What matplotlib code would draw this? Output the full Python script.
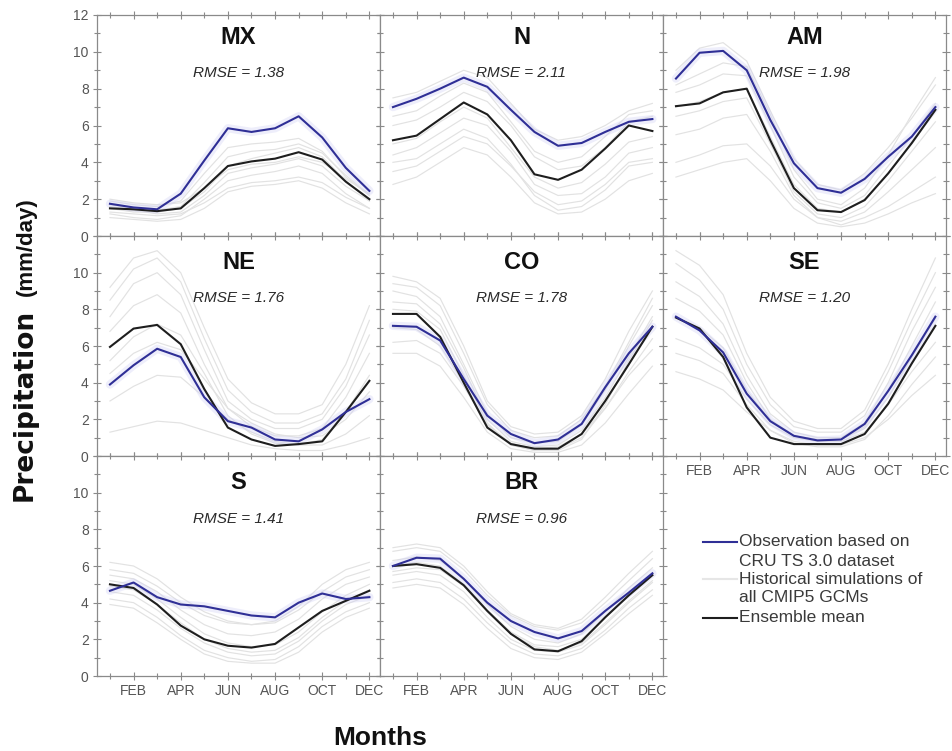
import matplotlib
matplotlib.use('Agg')
import matplotlib.pyplot as plt
from matplotlib.lines import Line2D
from matplotlib.ticker import FixedLocator, MultipleLocator
import numpy as np

plt.rcParams['font.family'] = ['Liberation Sans', 'DejaVu Sans']

# ---------------- data ----------------
months = list(range(1, 13))
tick_months = [2, 4, 6, 8, 10, 12]
month_labels = ['FEB', 'APR', 'JUN', 'AUG', 'OCT', 'DEC']
regions = ['MX', 'N', 'AM', 'NE', 'CO', 'SE', 'S', 'BR']
rmse = [1.38, 2.11, 1.98, 1.76, 1.78, 1.20, 1.41, 0.96]

obs_MX = [1.75, 1.55, 1.45, 2.3, 4.1, 5.85, 5.65, 5.85, 6.5, 5.35, 3.7, 2.45]
obs_N = [7.0, 7.45, 8.0, 8.6, 8.1, 6.85, 5.65, 4.9, 5.05, 5.65, 6.2, 6.35]
obs_AM = [8.55, 9.95, 10.05, 9.0, 6.3, 3.95, 2.6, 2.35, 3.1, 4.3, 5.4, 7.0]
obs_NE = [3.9, 4.95, 5.85, 5.4, 3.2, 1.9, 1.55, 0.9, 0.8, 1.45, 2.4, 3.1]
obs_CO = [7.1, 7.05, 6.3, 4.2, 2.2, 1.2, 0.7, 0.9, 1.75, 3.75, 5.6, 7.05]
obs_SE = [7.6, 6.85, 5.65, 3.4, 1.9, 1.1, 0.85, 0.9, 1.75, 3.55, 5.5, 7.6]
obs_S = [4.65, 5.1, 4.3, 3.9, 3.8, 3.55, 3.3, 3.2, 4.0, 4.5, 4.2, 4.3]
obs_BR = [6.0, 6.45, 6.4, 5.3, 4.0, 3.0, 2.4, 2.05, 2.45, 3.55, 4.55, 5.6]

ens_MX = [1.5, 1.45, 1.35, 1.5, 2.6, 3.8, 4.05, 4.2, 4.55, 4.15, 2.95, 2.0]
ens_N = [5.2, 5.45, 6.35, 7.25, 6.6, 5.2, 3.35, 3.05, 3.6, 4.75, 6.0, 5.7]
ens_AM = [7.05, 7.2, 7.8, 8.0, 5.2, 2.6, 1.4, 1.3, 1.95, 3.4, 5.05, 6.85]
ens_NE = [5.95, 6.95, 7.15, 6.1, 3.65, 1.55, 0.9, 0.55, 0.65, 0.8, 2.4, 4.1]
ens_CO = [7.75, 7.75, 6.5, 4.0, 1.55, 0.65, 0.4, 0.4, 1.2, 3.0, 5.0, 7.05]
ens_SE = [7.55, 6.95, 5.4, 2.65, 1.0, 0.65, 0.65, 0.65, 1.2, 2.85, 5.05, 7.1]
ens_S = [5.0, 4.8, 3.9, 2.75, 2.0, 1.65, 1.55, 1.75, 2.65, 3.55, 4.1, 4.65]
ens_BR = [6.0, 6.1, 5.9, 4.95, 3.55, 2.3, 1.45, 1.35, 1.9, 3.2, 4.4, 5.5]

gcm_MX = [
    [1.9, 1.7, 1.6, 1.9, 3.4, 4.8, 5.0, 5.1, 5.3, 4.6, 3.2, 2.2],
    [1.2, 1.0, 0.9, 1.1, 2.0, 3.0, 3.3, 3.5, 3.8, 3.4, 2.3, 1.5],
    [1.6, 1.4, 1.2, 1.3, 2.2, 3.4, 3.7, 3.9, 4.2, 3.8, 2.7, 1.9],
    [2.0, 1.8, 1.7, 1.8, 2.6, 3.6, 3.9, 4.0, 4.3, 4.0, 3.1, 2.3],
    [1.3, 1.2, 1.1, 1.2, 1.8, 2.6, 2.9, 3.0, 3.2, 2.9, 2.1, 1.5],
    [1.7, 1.5, 1.4, 1.6, 2.9, 4.3, 4.6, 4.7, 5.0, 4.5, 3.3, 2.2],
    [1.0, 0.9, 0.8, 0.9, 1.5, 2.4, 2.7, 2.8, 3.0, 2.6, 1.8, 1.2],
    [1.5, 1.3, 1.3, 1.5, 2.4, 3.8, 4.2, 4.5, 4.8, 4.3, 3.0, 1.9],
]
gcm_N = [
    [7.5, 7.8, 8.4, 9.0, 8.6, 7.2, 5.8, 5.2, 5.4, 6.0, 6.8, 7.2],
    [3.5, 3.8, 4.6, 5.4, 5.0, 3.8, 2.4, 1.7, 1.9, 2.8, 4.0, 4.2],
    [5.0, 5.3, 6.2, 7.0, 6.4, 4.8, 3.2, 2.6, 2.9, 3.9, 5.1, 5.4],
    [6.0, 6.3, 7.0, 7.8, 7.3, 6.0, 4.3, 3.6, 3.8, 4.8, 6.2, 6.5],
    [2.8, 3.2, 4.0, 4.8, 4.4, 3.2, 1.8, 1.2, 1.3, 2.0, 3.0, 3.4],
    [4.4, 4.8, 5.6, 6.4, 6.0, 4.6, 2.8, 2.2, 2.3, 3.2, 4.5, 4.8],
    [6.5, 6.8, 7.6, 8.3, 7.8, 6.2, 4.6, 4.0, 4.3, 5.4, 6.6, 6.8],
    [4.0, 4.2, 5.0, 5.8, 5.3, 3.9, 2.2, 1.4, 1.6, 2.5, 3.8, 4.0],
]
gcm_AM = [
    [9.0, 10.2, 10.5, 9.5, 6.8, 4.2, 2.8, 2.5, 3.4, 4.8, 6.4, 8.2],
    [4.0, 4.4, 4.9, 5.0, 3.8, 2.0, 1.0, 0.6, 1.0, 1.6, 2.4, 3.2],
    [6.5, 6.8, 7.3, 7.5, 5.0, 2.4, 1.2, 1.0, 1.6, 3.0, 4.6, 6.2],
    [7.8, 8.2, 8.8, 8.7, 6.0, 3.2, 1.8, 1.5, 2.2, 3.8, 5.4, 7.2],
    [5.5, 5.8, 6.4, 6.6, 4.6, 2.2, 1.0, 0.8, 1.3, 2.4, 3.6, 4.8],
    [8.2, 8.8, 9.4, 9.2, 6.6, 3.6, 2.0, 1.7, 2.6, 4.4, 6.6, 8.6],
    [3.2, 3.6, 4.0, 4.2, 3.0, 1.5, 0.7, 0.5, 0.7, 1.2, 1.8, 2.3],
    [7.0, 7.3, 7.8, 8.0, 5.4, 2.8, 1.5, 1.3, 2.0, 3.4, 5.0, 6.8],
]
gcm_NE = [
    [8.5, 10.2, 10.8, 9.5, 6.4, 3.6, 2.4, 1.8, 1.8, 2.3, 4.2, 7.4],
    [1.3, 1.6, 1.9, 1.8, 1.4, 1.0, 0.6, 0.4, 0.3, 0.3, 0.6, 1.0],
    [6.8, 8.2, 8.8, 7.8, 5.0, 2.6, 1.6, 1.1, 1.1, 1.5, 3.2, 5.6],
    [4.5, 5.6, 6.2, 5.8, 4.2, 2.6, 1.8, 1.2, 1.0, 1.1, 2.0, 3.5],
    [3.0, 3.8, 4.4, 4.3, 3.2, 2.0, 1.3, 0.8, 0.6, 0.6, 1.2, 2.2],
    [7.6, 9.4, 10.0, 8.8, 5.8, 3.0, 2.0, 1.5, 1.5, 2.0, 3.8, 6.6],
    [5.2, 6.5, 7.2, 6.6, 4.5, 2.2, 1.2, 0.7, 0.6, 0.9, 2.4, 4.4],
    [9.2, 10.8, 11.2, 10.0, 7.0, 4.2, 2.9, 2.3, 2.3, 2.8, 5.0, 8.2],
]
gcm_CO = [
    [9.4, 9.2, 8.2, 5.6, 2.8, 1.4, 1.0, 1.1, 2.0, 3.8, 6.2, 8.6],
    [5.6, 5.6, 4.9, 3.2, 1.3, 0.4, 0.2, 0.2, 0.6, 1.8, 3.4, 4.9],
    [8.4, 8.3, 7.2, 4.8, 2.0, 0.8, 0.5, 0.6, 1.4, 3.2, 5.4, 7.6],
    [7.0, 6.9, 6.0, 4.0, 1.7, 0.6, 0.3, 0.4, 1.0, 2.6, 4.6, 6.4],
    [9.0, 8.7, 7.6, 5.0, 2.3, 1.0, 0.7, 0.8, 1.7, 3.6, 6.0, 8.2],
    [6.2, 6.3, 5.6, 3.8, 1.7, 0.7, 0.4, 0.5, 1.2, 2.6, 4.4, 5.8],
    [8.0, 7.9, 6.9, 4.4, 1.8, 0.6, 0.3, 0.3, 0.9, 2.8, 5.2, 7.4],
    [9.8, 9.5, 8.6, 6.0, 3.0, 1.6, 1.2, 1.3, 2.2, 4.2, 6.8, 9.0],
]
gcm_SE = [
    [10.5, 9.6, 8.0, 5.0, 2.8, 1.6, 1.3, 1.3, 2.2, 4.6, 7.4, 10.0],
    [4.6, 4.2, 3.6, 2.4, 1.4, 0.8, 0.6, 0.6, 1.0, 2.0, 3.3, 4.4],
    [8.6, 7.9, 6.6, 4.0, 2.0, 1.1, 0.9, 0.9, 1.6, 3.6, 6.0, 8.4],
    [6.4, 5.9, 5.0, 3.1, 1.7, 1.0, 0.8, 0.8, 1.3, 2.8, 4.6, 6.2],
    [9.5, 8.7, 7.2, 4.4, 2.3, 1.3, 1.0, 1.0, 1.8, 4.0, 6.8, 9.2],
    [5.6, 5.2, 4.5, 2.8, 1.4, 0.7, 0.5, 0.5, 0.9, 2.2, 3.9, 5.4],
    [7.6, 7.0, 5.9, 3.6, 1.9, 1.1, 0.9, 0.9, 1.5, 3.2, 5.4, 7.5],
    [11.2, 10.4, 8.8, 5.6, 3.2, 1.9, 1.5, 1.5, 2.5, 5.0, 8.0, 10.8],
]
gcm_S = [
    [5.8, 5.6, 4.9, 4.0, 3.3, 2.9, 2.8, 2.9, 3.6, 4.6, 5.4, 5.8],
    [4.2, 4.0, 3.2, 2.2, 1.4, 1.0, 0.8, 0.9, 1.6, 2.7, 3.5, 4.0],
    [5.2, 5.0, 4.2, 3.2, 2.3, 1.8, 1.6, 1.7, 2.4, 3.5, 4.4, 5.0],
    [4.6, 4.4, 3.6, 2.6, 1.8, 1.3, 1.1, 1.2, 1.9, 3.0, 3.9, 4.4],
    [6.2, 6.0, 5.3, 4.3, 3.5, 3.0, 2.8, 3.0, 3.8, 5.0, 5.8, 6.2],
    [3.9, 3.7, 2.9, 2.0, 1.2, 0.8, 0.7, 0.7, 1.3, 2.4, 3.2, 3.7],
    [5.5, 5.3, 4.6, 3.6, 2.8, 2.3, 2.2, 2.4, 3.1, 4.2, 5.0, 5.4],
    [4.9, 4.7, 3.9, 2.9, 2.0, 1.5, 1.3, 1.4, 2.1, 3.2, 4.1, 4.7],
]
gcm_BR = [
    [6.8, 7.0, 6.8, 5.8, 4.4, 3.3, 2.7, 2.5, 2.9, 4.0, 5.2, 6.4],
    [4.8, 5.0, 4.8, 3.9, 2.6, 1.5, 1.0, 0.9, 1.3, 2.3, 3.4, 4.4],
    [6.3, 6.5, 6.3, 5.3, 3.9, 2.7, 2.0, 1.8, 2.3, 3.5, 4.8, 5.9],
    [5.5, 5.7, 5.5, 4.6, 3.2, 2.0, 1.4, 1.3, 1.7, 2.8, 4.0, 5.1],
    [7.0, 7.2, 7.0, 6.0, 4.6, 3.4, 2.8, 2.6, 3.1, 4.3, 5.6, 6.8],
    [5.1, 5.3, 5.1, 4.2, 2.9, 1.8, 1.2, 1.1, 1.5, 2.5, 3.7, 4.7],
    [6.0, 6.2, 6.0, 5.0, 3.6, 2.4, 1.7, 1.6, 2.0, 3.2, 4.4, 5.6],
    [5.7, 5.9, 5.8, 4.9, 3.5, 2.3, 1.6, 1.4, 1.8, 2.9, 4.1, 5.2],
]

obs_all = [obs_MX, obs_N, obs_AM, obs_NE, obs_CO, obs_SE, obs_S, obs_BR]
ens_all = [ens_MX, ens_N, ens_AM, ens_NE, ens_CO, ens_SE, ens_S, ens_BR]
gcm_all = [gcm_MX, gcm_N, gcm_AM, gcm_NE, gcm_CO, gcm_SE, gcm_S, gcm_BR]

# ---------------- styling ----------------
W, H = 953, 751
OBS_C = '#2f2f96'
ENS_C = '#1e1e1e'
GCM_C = '#e2e2e2'
SPINE_C = '#8a8a8a'
TICKLAB_C = '#555555'

fig = plt.figure(figsize=(W / 100, H / 100), dpi=100)
fig.patch.set_facecolor('white')

col_left = [97, 380, 663]
panel_w = 283
row_top = [15, 236, 456]
panel_h = [221, 220, 220]
title_y = [0.90, 0.878, 0.88]
rmse_y = [0.736, 0.717, 0.713]

for i, reg in enumerate(regions):
    r, c = divmod(i, 3)
    left = col_left[c] / W
    bottom = 1 - (row_top[r] + panel_h[r]) / H
    ax = fig.add_axes([left, bottom, panel_w / W, panel_h[r] / H])

    for g in gcm_all[i]:
        ax.plot(months, g, color=GCM_C, lw=0.85, zorder=1)
    ax.plot(months, obs_all[i], color='#cfcff4', lw=6, alpha=0.35,
            solid_capstyle='round', zorder=2)
    ax.plot(months, ens_all[i], color=ENS_C, lw=1.5, zorder=3)
    ax.plot(months, obs_all[i], color=OBS_C, lw=1.5, zorder=4)

    ax.set_xlim(0.45, 12.45)
    ax.set_ylim(0, 12)
    ax.xaxis.set_major_locator(FixedLocator(tick_months))
    ax.xaxis.set_minor_locator(FixedLocator([1, 3, 5, 7, 9, 11]))
    ax.yaxis.set_major_locator(MultipleLocator(2))
    ax.yaxis.set_minor_locator(MultipleLocator(1))
    ax.tick_params(which='both', direction='inout', top=True, right=True,
                   color=SPINE_C, labelcolor=TICKLAB_C, labelsize=10,
                   width=0.8)
    ax.tick_params(which='major', length=6)
    ax.tick_params(which='minor', length=4)
    ax.tick_params(axis='x', pad=3)
    ax.tick_params(axis='y', pad=3)
    for s in ax.spines.values():
        s.set_color(SPINE_C)
        s.set_linewidth(0.9)

    show_x = (r == 2) or (r == 1 and c == 2)
    if show_x:
        ax.set_xticklabels(month_labels)
    else:
        ax.set_xticklabels([])
    if c == 0:
        ylabs = [str(v) for v in range(0, 13, 2)]
        if r > 0:
            ylabs[-1] = ''
        ax.set_yticks(range(0, 13, 2))
        ax.set_yticklabels(ylabs)
    else:
        ax.set_yticklabels([])

    ax.text(0.5, title_y[r], reg, transform=ax.transAxes, ha='center',
            va='center', fontsize=17, fontweight='bold', color='#111111',
            zorder=6)
    ax.text(0.5, rmse_y[r], 'RMSE = %.2f' % rmse[i], transform=ax.transAxes,
            ha='center', va='center', fontsize=11, style='italic',
            color='#2a2a2a', zorder=6)

# axis labels
fig.text(32 / W, 1 - 405 / H, 'Precipitation', rotation=90,
         rotation_mode='anchor', ha='center', va='baseline',
         fontsize=19, fontweight='bold', family=['DejaVu Sans'],
         color='#111111')
fig.text(32 / W, 1 - 247 / H, '(mm/day)', rotation=90,
         rotation_mode='anchor', ha='center', va='baseline',
         fontsize=16, fontweight='bold', color='#111111')
fig.text(380 / W, 1 - 745 / H, 'Months', ha='center', va='baseline',
         fontsize=19, fontweight='bold', color='#111111')

# legend (manual, to reproduce its layout)
leg_items = [
    (542, 'Observation based on', OBS_C),
    (561, 'CRU TS 3.0 dataset', None),
    (579, 'Historical simulations of', '#e6e6e6'),
    (597, 'all CMIP5 GCMs', None),
    (618, 'Ensemble mean', ENS_C),
]
for y, txt, col in leg_items:
    if col is not None:
        fig.add_artist(Line2D([703 / W, 737 / W], [1 - y / H, 1 - y / H],
                              color=col, lw=1.5, transform=fig.transFigure))
    fig.text(739 / W, 1 - y / H, txt, ha='left', va='center',
             fontsize=12.5, color='#3a3a3a')

fig.savefig('out.png', dpi=100, facecolor='white')
